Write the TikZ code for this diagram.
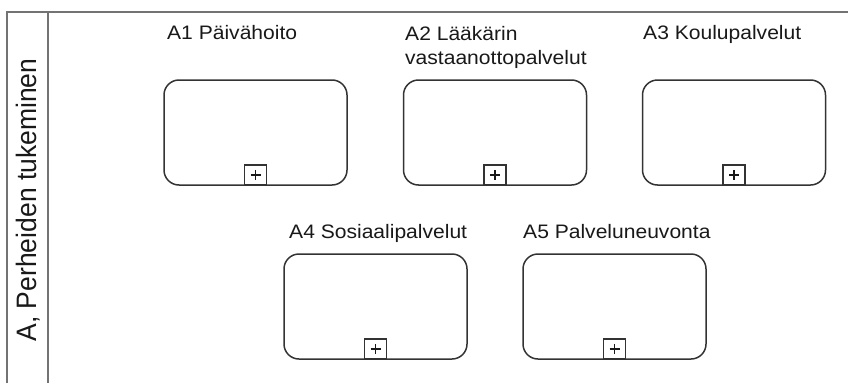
\documentclass[tikz,border=0pt]{standalone}
\usepackage{fontspec}
\setmainfont{Liberation Sans}[FakeStretch=1.08]
\newfontfamily\lanefont{Liberation Sans}
\begin{document}
\begin{tikzpicture}[x=1pt,y=-1pt,
  poolline/.style={draw=black!55,line width=2pt},
  subproc/.style={draw=black!80,line width=1.5pt,rounded corners=15pt,
    minimum width=183pt,minimum height=105pt,inner sep=0pt,fill=white},
  collapsed/.style={draw=black!80,line width=1.3pt,minimum width=22pt,
    minimum height=20pt,inner sep=0pt,anchor=south,
    path picture={\draw[line width=1.8pt,black!90]
      ([xshift=-5pt]path picture bounding box.center) -- ++(10pt,0)
      ([yshift=5pt]path picture bounding box.center) -- ++(0,-10pt);}},
  tasklabel/.style={anchor=base west,inner sep=0pt,text=black!90,
    font=\fontsize{19.5}{24.5}\selectfont,align=left},
  lanelabel/.style={rotate=90,inner sep=0pt,text=black!90,
    font=\lanefont\fontsize{26.5}{30}\selectfont}]
  \useasboundingbox[fill=white] (0,0) rectangle (848,383);

  % pool frame and lane header band
  \coordinate (tl) at (7,11.5);
  \coordinate (tr) at (848,11.5);
  \coordinate (bl) at (7,383);
  \coordinate (dt) at (48,11.5);
  \coordinate (db) at (48,383);
  \draw[poolline] (bl) -- (tl) -- (tr);
  \draw[poolline] (dt) -- (db);
  \node[lanelabel] (lane) at (28,200) {\scalebox{1}[1.06]{A, Perheiden tukeminen}};

  % collapsed sub-processes
  \node[subproc] (a1) at (255.5,132.5) {};
  \node[subproc] (a2) at (495,132.5) {};
  \node[subproc] (a3) at (734,132.5) {};
  \node[subproc] (a4) at (375.5,306.5) {};
  \node[subproc] (a5) at (614.5,306.5) {};

  \foreach \b in {a1,a2,a3,a4,a5}
    \node[collapsed] (m\b) at (\b.south) {};

  % task titles (base anchor of a two-line title sits on its last line)
  \node[tasklabel] (t1) at (167,39.5) {A1 Päivähoito};
  \node[tasklabel] (t2) at (405,64.5) {A2 Lääkärin\\vastaanottopalvelut};
  \node[tasklabel] (t3) at (643,39.5) {A3 Koulupalvelut};
  \node[tasklabel] (t4) at (289,238) {A4 Sosiaalipalvelut};
  \node[tasklabel] (t5) at (523,238) {A5 Palveluneuvonta};
\end{tikzpicture}
\end{document}
